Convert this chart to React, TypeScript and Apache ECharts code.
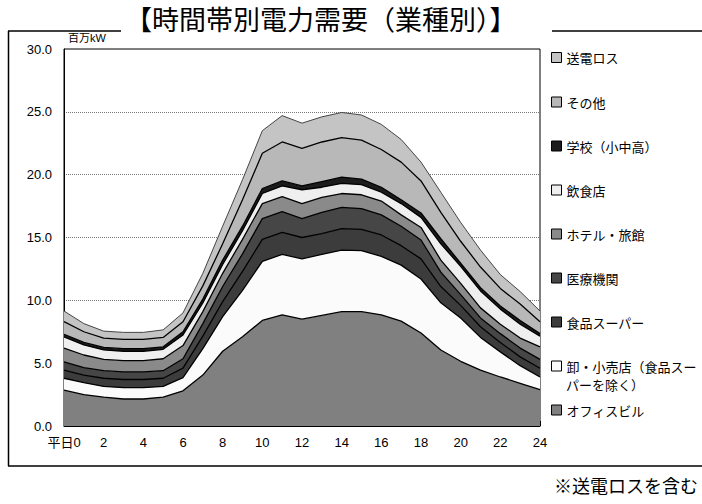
import React, { useEffect, useRef } from 'react';
import * as echarts from 'echarts';

const hours = ['0','1','2','3','4','5','6','7','8','9','10','11','12','13','14','15','16','17','18','19','20','21','22','23','24'];

const office = [2.85,2.5,2.3,2.15,2.15,2.3,2.8,4.05,5.95,7.1,8.4,8.85,8.5,8.8,9.1,9.1,8.85,8.35,7.4,6.05,5.15,4.45,3.9,3.4,2.9];
const retail = [0.95,0.95,0.85,0.9,0.9,0.85,1.05,2.1,2.75,3.7,4.7,4.8,4.8,4.85,4.9,4.85,4.65,4.45,4.3,3.75,3.45,2.6,2.0,1.4,1.0];
const foodSuper = [0.65,0.6,0.65,0.65,0.65,0.65,0.75,1.0,1.2,1.5,1.75,1.75,1.7,1.65,1.7,1.7,1.7,1.55,1.6,1.3,1.0,0.85,0.75,0.7,0.7];
const medical = [0.65,0.6,0.6,0.6,0.6,0.6,0.75,1.0,1.2,1.4,1.65,1.65,1.5,1.7,1.7,1.65,1.6,1.55,1.5,1.15,0.85,0.7,0.7,0.7,0.7];
const hotel = [1.1,1.0,0.9,0.9,0.9,0.95,1.05,0.95,1.05,1.15,1.2,1.2,1.2,1.2,1.1,1.1,1.1,0.9,1.0,0.95,0.9,0.8,0.75,0.8,1.0];
const restaurant = [0.9,0.8,0.75,0.75,0.75,0.75,0.85,0.7,0.7,0.7,0.8,0.85,1.1,0.8,0.8,0.8,0.7,0.9,0.8,1.3,1.35,1.35,1.2,1.1,0.85];
const school = [0.2,0.2,0.2,0.2,0.2,0.2,0.25,0.3,0.35,0.35,0.4,0.4,0.3,0.45,0.5,0.45,0.4,0.3,0.35,0.4,0.25,0.25,0.25,0.3,0.2];
const other = [1.0,0.85,0.75,0.75,0.75,0.75,0.8,1.05,1.3,2.1,2.8,3.1,3.0,3.15,3.15,3.1,3.0,3.0,2.55,2.1,1.75,1.65,1.4,1.3,0.95];
const loss = [0.85,0.65,0.55,0.55,0.55,0.6,0.7,1.0,1.4,1.6,1.8,2.1,2.0,2.0,2.0,2.0,2.0,1.8,1.5,1.6,1.5,1.35,1.1,1.0,0.85];

const yTicks = [0, 5, 10, 15, 20, 25, 30];

// bottom to top stacking order
const seriesDefs = [
  { name: 'オフィスビル', data: office, color: '#808080' },
  { name: '卸・小売店（食品スーパーを除く）', data: retail, color: '#fbfbfb' },
  { name: '食品スーパー', data: foodSuper, color: '#3c3c3c' },
  { name: '医療機関', data: medical, color: '#464646' },
  { name: 'ホテル・旅館', data: hotel, color: '#8a8a8a' },
  { name: '飲食店', data: restaurant, color: '#efefef' },
  { name: '学校（小中高）', data: school, color: '#1c1c1c' },
  { name: 'その他', data: other, color: '#b8b8b8' },
  { name: '送電ロス', data: loss, color: '#c4c4c4' },
];

const FONT = "'Liberation Sans', 'Noto Sans CJK JP', sans-serif";
const JFONT = "'Noto Sans CJK JP', sans-serif";

export default function App() {
  const ref = useRef<HTMLDivElement>(null);
  useEffect(() => {
    document.body.style.margin = '0';
    const chart = echarts.init(ref.current!, null, { renderer: 'svg' });
    const legendOrder = [...seriesDefs].reverse();
    const legendCenters = [57.5, 102, 146, 190, 234, 278, 322, 366, 410];
    const legends = legendOrder.map((s, i) => {
      const multi = s.name.startsWith('卸');
      return {
        show: true,
        orient: 'vertical',
        left: 551,
        top: legendCenters[i] - 7.5,
        padding: 0,
        itemWidth: 10,
        itemHeight: 10,
        itemGap: 0,
        icon: 'rect',
        selectedMode: false,
        formatter: multi ? () => '卸・小売店（食品スー' : undefined,
        textStyle: { fontSize: 13, lineHeight: 15, fontFamily: JFONT, color: '#000' },
        data: [{ name: s.name, itemStyle: { color: s.color, borderColor: '#000', borderWidth: 1 } }],
      };
    });

    const option: any = {
      animation: false,
      backgroundColor: '#fff',
      title: {
        text: '【時間帯別電力需要（業種別）】',
        left: 125,
        top: 5,
        padding: 0,
        textStyle: { fontSize: 27, fontWeight: 'normal', fontFamily: JFONT, color: '#000' },
      },
      legend: legends,
      grid: {
        left: 64,
        right: 162,
        top: 49,
        bottom: 78,
        show: true,
        borderColor: '#000',
        borderWidth: 1,
        backgroundColor: 'transparent',
      },
      xAxis: {
        type: 'category',
        data: hours,
        boundaryGap: false,
        axisLine: { show: true, lineStyle: { color: '#000', width: 1 } },
        axisTick: { show: true, inside: true, length: 5, interval: 0, lineStyle: { color: '#000' } },
        axisLabel: {
          interval: 1,
          margin: 10,
          fontSize: 13,
          fontFamily: FONT,
          color: '#000',
          formatter: (v: string, i: number) => (i === 0 ? '平日0' : v),
        },
        splitLine: { show: false },
      },
      yAxis: {
        type: 'value',
        min: yTicks[0],
        max: yTicks[yTicks.length - 1],
        interval: 5,
        axisLine: { show: true, lineStyle: { color: '#000', width: 1 } },
        axisTick: { show: false },
        axisLabel: {
          margin: 12,
          fontSize: 13,
          fontFamily: FONT,
          color: '#000',
          formatter: (v: number) => v.toFixed(1),
        },
        splitLine: { show: true, lineStyle: { color: '#777', type: 'dotted', width: 1 } },
      },
      series: seriesDefs.map((s, i) => ({
        name: s.name,
        type: 'line',
        stack: 'total',
        data: s.data,
        symbol: 'none',
        smooth: false,
        itemStyle: { color: s.color },
        lineStyle: { color: i === seriesDefs.length - 1 ? '#333' : '#000', width: i === seriesDefs.length - 1 ? 0.9 : 1.3 },
        areaStyle: { color: s.color, opacity: 1 },
        emphasis: { disabled: true },
        z: 2,
      })),
      graphic: [
        { type: 'line', shape: { x1: 8, y1: 31, x2: 121, y2: 31 }, style: { stroke: '#000', lineWidth: 1.5 } },
        { type: 'line', shape: { x1: 552, y1: 31, x2: 702, y2: 31 }, style: { stroke: '#000', lineWidth: 1.5 } },
        { type: 'line', shape: { x1: 8.5, y1: 31, x2: 8.5, y2: 466 }, style: { stroke: '#000', lineWidth: 1.5 } },
        { type: 'line', shape: { x1: 8, y1: 466, x2: 702, y2: 466 }, style: { stroke: '#000', lineWidth: 1.5 } },
        {
          type: 'text', left: 68, top: 32,
          style: { text: '百万kW', fontSize: 11, fontFamily: FONT, fill: '#000' },
        },
        {
          type: 'text', left: 566, top: 377,
          style: { text: 'パーを除く）', fontSize: 13, lineHeight: 15, fontFamily: JFONT, fill: '#000' },
        },
        {
          type: 'text', right: 4, top: 476,
          style: { text: '※送電ロスを含む', fontSize: 18, fontFamily: JFONT, fill: '#000' },
        },
      ],
    };
    chart.setOption(option);
    return () => chart.dispose();
  }, []);
  return <div ref={ref} style={{ width: 702, height: 504 }} />;
}
